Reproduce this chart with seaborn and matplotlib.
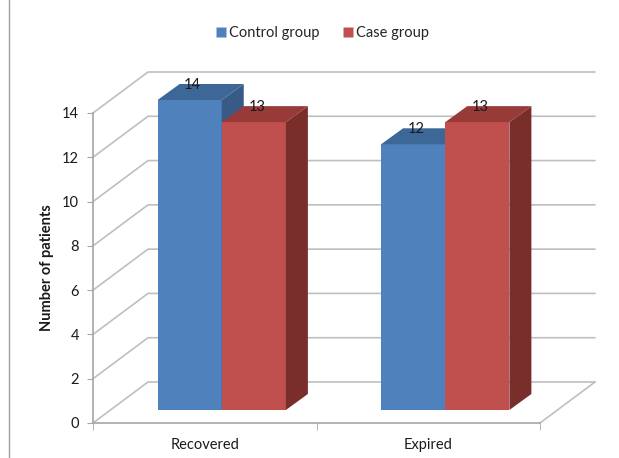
import pandas as pd
import seaborn as sns
import matplotlib.pyplot as plt
from matplotlib.transforms import ScaledTranslation
from matplotlib.patches import Polygon
from matplotlib.lines import Line2D

# data
outcomes = ['Recovered', 'Expired']
groups = ['Control group', 'Case group']
control = [14, 12]
case = [13, 13]
y_ticks = [0, 2, 4, 6, 8, 10, 12, 14]

front_colors = ['#4F81BD', '#C0504D']
top_colors = ['#3D6797', '#973A38']
side_colors = ['#375A87', '#7A2E2C']
grid_color = '#BFBFBF'

df = pd.DataFrame({
    'Outcome': outcomes * 2,
    'Group': [groups[0]] * 2 + [groups[1]] * 2,
    'Patients': control + case,
})

sns.set_style('white')
plt.rcParams['font.family'] = ['Lato', 'DejaVu Sans']

W, H = 619, 458
fig = plt.figure(figsize=(W / 100, H / 100), dpi=100)
ax = fig.add_axes([93 / W, 35 / H, 447 / W, 310 / H])

sns.barplot(data=df, x='Outcome', y='Patients', hue='Group', hue_order=groups,
            palette=front_colors, saturation=1, width=0.574, ax=ax,
            legend=False, zorder=3, linewidth=0, edgecolor='none')

# pixel sizes of one data unit (axes box is fixed above)
px_x = 447 / 2
px_y = 310 / 14


def shift(dx, dy):
    return ScaledTranslation(dx / 100, dy / 100, fig.dpi_scale_trans)


floor_dx, floor_dy = 55 / px_x, 41 / px_y   # depth of floor / back wall
bar_dx, bar_dy = 22 / px_x, 16 / px_y       # depth of each bar
front_shift = ax.transData + shift(17, 13)

# 3d-ish grid: diagonal on the side wall, then along the back wall
for v in y_ticks:
    ax.plot([-0.5, -0.5 + floor_dx, 1.5 + floor_dx], [v, v + floor_dy, v + floor_dy],
            color=grid_color, lw=1.2, clip_on=False, zorder=1)
ax.plot([1.5, 1.5 + floor_dx], [0, floor_dy], color=grid_color, lw=1.2,
        clip_on=False, zorder=1)

# move the bars back into the box and give them a top and a side
for i, (cont, vals) in enumerate(zip(ax.containers, [control, case])):
    for bar, val in zip(cont, vals):
        bar.set_transform(front_shift)
        bar.set_clip_on(False)
        bar.set_zorder(3 + i)
        x0 = bar.get_x()
        x1 = x0 + bar.get_width()
        h = bar.get_height()
        top = Polygon([(x0, h), (x1, h), (x1 + bar_dx, h + bar_dy), (x0 + bar_dx, h + bar_dy)],
                      closed=True, transform=front_shift, fc=top_colors[i], ec='none',
                      clip_on=False, zorder=3 + i)
        side = Polygon([(x1, 0), (x1 + bar_dx, bar_dy), (x1 + bar_dx, h + bar_dy), (x1, h)],
                       closed=True, transform=front_shift, fc=side_colors[i], ec='none',
                       clip_on=False, zorder=3 + i)
        ax.add_patch(side)
        ax.add_patch(top)
        ax.text((x0 + x1) / 2, h, f'{val:g}', transform=ax.transData + shift(20, 28),
                ha='center', va='center', fontsize=10.5, color='#1A1A1A', zorder=10)

ax.set_xlim(-0.5, 1.5)
ax.set_ylim(0, 14)
ax.set_yticks(y_ticks)
ax.set_xticks([-0.5, 0.5, 1.5], minor=True)

for side_name in ['top', 'right']:
    ax.spines[side_name].set_visible(False)
for side_name in ['left', 'bottom']:
    ax.spines[side_name].set_color('#A6A6A6')
    ax.spines[side_name].set_linewidth(1.2)

ax.tick_params(axis='y', left=True, length=4, color='#A6A6A6', pad=6,
               labelsize=10.5, labelcolor='#1A1A1A')
ax.tick_params(axis='x', which='major', bottom=False, length=0, pad=11,
               labelsize=10.5, labelcolor='#1A1A1A')
ax.tick_params(axis='x', which='minor', bottom=True, length=5, color='#A6A6A6')

ax.set_xlabel('')
ax.set_ylabel('Number of patients', fontsize=10.5, fontweight='bold', color='#1A1A1A')
ax.yaxis.set_label_coords(-0.087, 0.5)

handles = [Line2D([], [], marker='s', ls='', markersize=7, markerfacecolor=c,
                  markeredgecolor='none') for c in front_colors]
fig.legend(handles, groups, loc='center', bbox_to_anchor=(322 / W, 1 - 33 / H), ncol=2,
           frameon=False, fontsize=10.5, handletextpad=0.2, columnspacing=1.5,
           handlelength=0.8)

# thin border line on the left of the original figure
fig.add_artist(Line2D([9 / W, 9 / W], [0, 1], color='#A0A0A0', lw=1,
                      transform=fig.transFigure))

fig.savefig('out.png', dpi=100)
